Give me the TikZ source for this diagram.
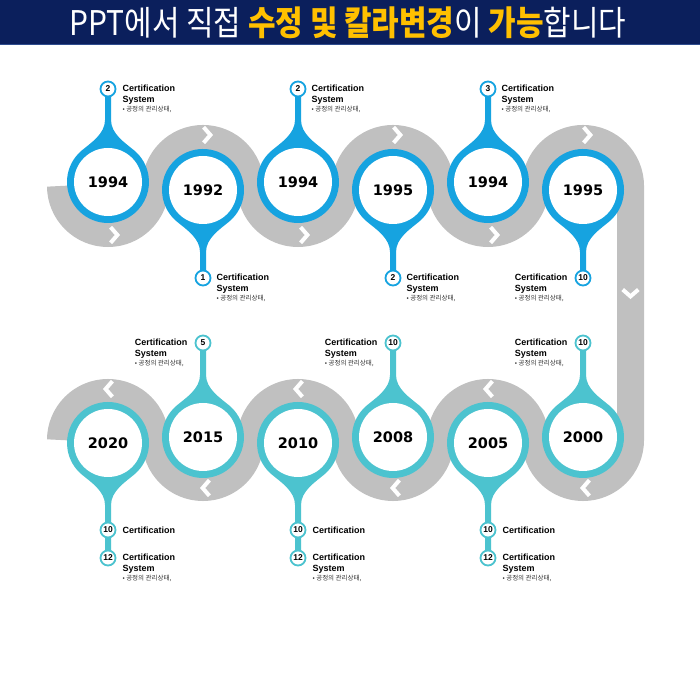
\documentclass[tikz,border=0pt]{standalone}
\usepackage{fontspec}
\setmainfont{Liberation Sans}
\newfontfamily\krfont{Noto Sans CJK KR}
\newfontfamily\krtitle[FakeStretch=0.88]{Noto Sans CJK KR}
\newfontfamily\yearfont{DejaVu Sans}
\usepackage{tikz}
\usetikzlibrary{positioning}
\definecolor{bannernavy}{HTML}{0B1F5C}
\definecolor{bannerline}{HTML}{2E4C8E}
\definecolor{titleyellow}{HTML}{FFC000}
\definecolor{dropblue}{HTML}{16A3E0}
\definecolor{dropteal}{HTML}{4CC3CF}
\definecolor{bandgray}{HTML}{C0C0C0}
\definecolor{infogray}{HTML}{333333}

% drop = ring + neck + stem; #1 centre, #2 rotation, #3 stem length, #4 colour
\newcommand\dropshape[4]{%
  \fill[fill=#4, shift={(#1)}, rotate=#2] (-3,#3) -- (-3,62)
    .. controls (-3,48) and (-17.2,39.1) .. (130:41pt)
    arc[start angle=130, end angle=410, radius=41pt]
    .. controls (17.2,39.1) and (3,48) .. (3,62) -- (3,#3) -- cycle;
  \fill[white, shift={(#1)}] (0,0) circle[radius=34pt];
}
\newcommand\chevron[2]{\draw[chev, shift={(#1)}, rotate=#2] (-3.4,7.8) -- (3.4,0) -- (-3.4,-7.8);}
\newcommand\infotext{Certification\\System\\[-2pt]{\krfont\mdseries\color{infogray}\fontsize{6.5}{8}\selectfont • 공정의 관리상태,}}

\begin{document}
\begin{tikzpicture}[x=1pt,y=1pt,
  band/.style={draw=bandgray, line width=27pt},
  chev/.style={draw=white, line width=4pt, miter limit=10},
  year/.style={font=\yearfont\bfseries\fontsize{14.5}{16}\selectfont, inner sep=0pt},
  badge/.style={circle, draw=#1, fill=white, line width=1.8pt, minimum size=15pt,
    inner sep=0pt, font=\bfseries\fontsize{8.5}{9}\selectfont},
  info/.style={align=left, inner sep=0pt, font=\bfseries\fontsize{9}{11}\selectfont}
]
\useasboundingbox (0,0) rectangle (700,700);
\fill[white] (0,0) rectangle (700,700);

% banner
\fill[bannernavy] (0,655) rectangle (700,700);
\draw[bannerline, line width=1pt] (0,655.5) -- (700,655.5);
\node[font=\krtitle\fontsize{34}{36}\selectfont, text=white, inner sep=0pt] (title) at (348,677)
  {PPT에서 직접 {\bfseries\color{titleyellow}수정 및 칼라변경}이 {\bfseries\color{titleyellow}가능}합니다};

% road
\draw[band] (60.5,514)
  \foreach \i in {1,2,3}{ arc[start angle=180, end angle=360, radius=47.5pt]
                          arc[start angle=180, end angle=0, radius=47.5pt] }
  -- (630.5,260)
  \foreach \i in {1,2,3}{ arc[start angle=0, end angle=-180, radius=47.5pt]
                          arc[start angle=0, end angle=180, radius=47.5pt] };
\foreach \x in {108,298,488} \chevron{\x+6,465}{0};
\foreach \x in {203,393,583} \chevron{\x+4,565}{0};
\chevron{630.5,407}{-90}
\foreach \x in {583,393,203} \chevron{\x+3,212}{180};
\foreach \x in {488,298,108} \chevron{\x+1,311}{180};

% drops
\foreach \x/\y/\r/\l in {108/518/0/93, 203/510/180/88, 298/518/0/93,
                         393/510/180/88, 488/518/0/93, 583/510/180/88}
  \dropshape{\x,\y}{\r}{\l}{dropblue};
\foreach \x/\y/\r/\l in {583/263/0/94, 488/257/180/115, 393/263/0/94,
                         298/257/180/115, 203/263/0/94, 108/257/180/115}
  \dropshape{\x,\y}{\r}{\l}{dropteal};

% years
\node[year] (y1) at (108,518) {1994};
\node[year] (y2) at (203,510) {1992};
\node[year] (y3) at (298,518) {1994};
\node[year] (y4) at (393,510) {1995};
\node[year] (y5) at (488,518) {1994};
\node[year] (y6) at (583,510) {1995};
\node[year] (y7) at (583,263) {2000};
\node[year] (y8) at (488,257) {2005};
\node[year] (y9) at (393,263) {2008};
\node[year] (y10) at (298,257) {2010};
\node[year] (y11) at (203,263) {2015};
\node[year] (y12) at (108,257) {2020};

% badges, top row
\node[badge=dropblue] (b1) at (108,611) {2};
\node[badge=dropblue] (b2) at (203,422) {1};
\node[badge=dropblue] (b3) at (298,611) {2};
\node[badge=dropblue] (b4) at (393,422) {2};
\node[badge=dropblue] (b5) at (488,611) {3};
\node[badge=dropblue] (b6) at (583,422) {10};
\node[info, below right=-4pt and 6pt of b1.east] (t1) {\infotext};
\node[info, below right=-4pt and 5pt of b2.east] (t2) {\infotext};
\node[info, below right=-4pt and 5pt of b3.east] (t3) {\infotext};
\node[info, below right=-4pt and 5pt of b4.east] (t4) {\infotext};
\node[info, below right=-4pt and 5pt of b5.east] (t5) {\infotext};
\node[info, below left=-4pt and 7pt of b6.west] (t6) {\infotext};

% badges, bottom row
\node[badge=dropteal] (b7) at (583,357) {10};
\node[badge=dropteal] (b9) at (393,357) {10};
\node[badge=dropteal] (b11) at (203,357) {5};
\node[info, below left=-4pt and 7pt of b7.west] (t7) {\infotext};
\node[info, below left=-4pt and 7pt of b9.west] (t9) {\infotext};
\node[info, below left=-4pt and 7pt of b11.west] (t11) {\infotext};
\foreach \x/\n in {488/8, 298/10, 108/12}{
  \node[badge=dropteal] (b\n a) at (\x,170) {10};
  \node[badge=dropteal] (b\n b) at (\x,142) {12};
  \node[info, right=6pt of b\n a] (t\n a) {Certification};
  \node[info, below right=-4pt and 6pt of b\n b.east] (t\n b) {\infotext};
}
\end{tikzpicture}
\end{document}
